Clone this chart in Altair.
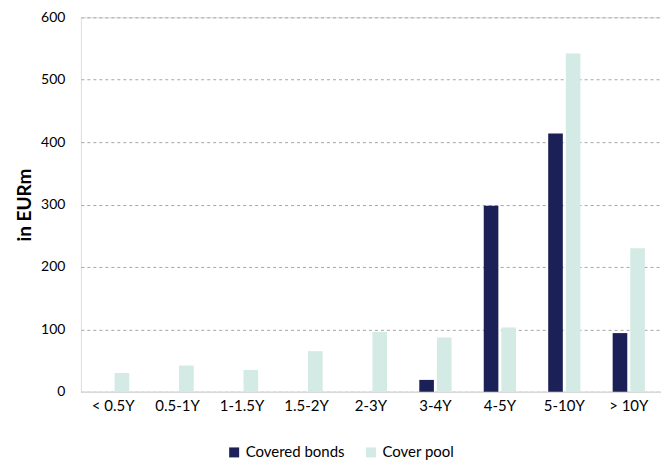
import altair as alt
import pandas as pd

categories = ["< 0.5Y", "0.5-1Y", "1-1.5Y", "1.5-2Y", "2-3Y", "3-4Y", "4-5Y", "5-10Y", "> 10Y"]
covered_bonds = [0, 0, 0, 0, 0, 19, 298, 414, 94]
cover_pool = [30, 42, 35, 65, 96, 87, 103, 542, 230]
series_names = ["Covered bonds", "Cover pool"]
series_colors = ["#1B2156", "#D3EAE5"]
y_ticks = [0, 100, 200, 300, 400, 500, 600]

rows = []
for c, v in zip(categories, covered_bonds):
    rows.append({"cat": c, "series": series_names[0], "value": v})
for c, v in zip(categories, cover_pool):
    rows.append({"cat": c, "series": series_names[1], "value": v})
df = pd.DataFrame(rows)

FONT = "Lato"

chart = alt.Chart(df).mark_bar().encode(
    x=alt.X("cat:N", sort=categories, title=None,
            scale=alt.Scale(paddingInner=0.5, paddingOuter=0.25),
            axis=alt.Axis(labelAngle=0, ticks=False, domain=True, domainColor="#d9d9d9",
                          domainWidth=1.5, labelPadding=7, labelFontSize=15,
                          labelColor="#000000", labelFont=FONT, grid=False)),
    xOffset=alt.XOffset("series:N", sort=series_names,
                        scale=alt.Scale(paddingInner=0.17, paddingOuter=0)),
    y=alt.Y("value:Q", title="in EURm",
            scale=alt.Scale(domain=[0, 600], nice=False),
            axis=alt.Axis(values=y_ticks, ticks=False, domain=False, labelPadding=16,
                          labelFontSize=14, labelColor="#000000", labelFont=FONT,
                          grid=True, gridColor="#a6a6a6", gridDash=[3, 3], gridWidth=1,
                          titleFont=FONT, titleFontSize=19, titleFontWeight="bold",
                          titleColor="#000000", titleX=-46)),
    color=alt.Color("series:N", sort=series_names,
                    scale=alt.Scale(domain=series_names, range=series_colors),
                    legend=alt.Legend(title=None, orient="none", direction="horizontal",
                                      legendX=146, legendY=428, symbolType="square",
                                      symbolSize=100, symbolStrokeWidth=0,
                                      labelFontSize=15, labelFont=FONT, labelColor="#000000",
                                      columnPadding=18, labelOffset=4)),
).properties(
    width=581, height=375,
    autosize=alt.AutoSizeParams(type="none"),
    padding={"left": 73, "top": 9, "right": 0, "bottom": 70},
).configure_view(stroke=None).configure(background="#ffffff")

chart.save("out.html", embed_options={"renderer": "svg", "actions": False})
